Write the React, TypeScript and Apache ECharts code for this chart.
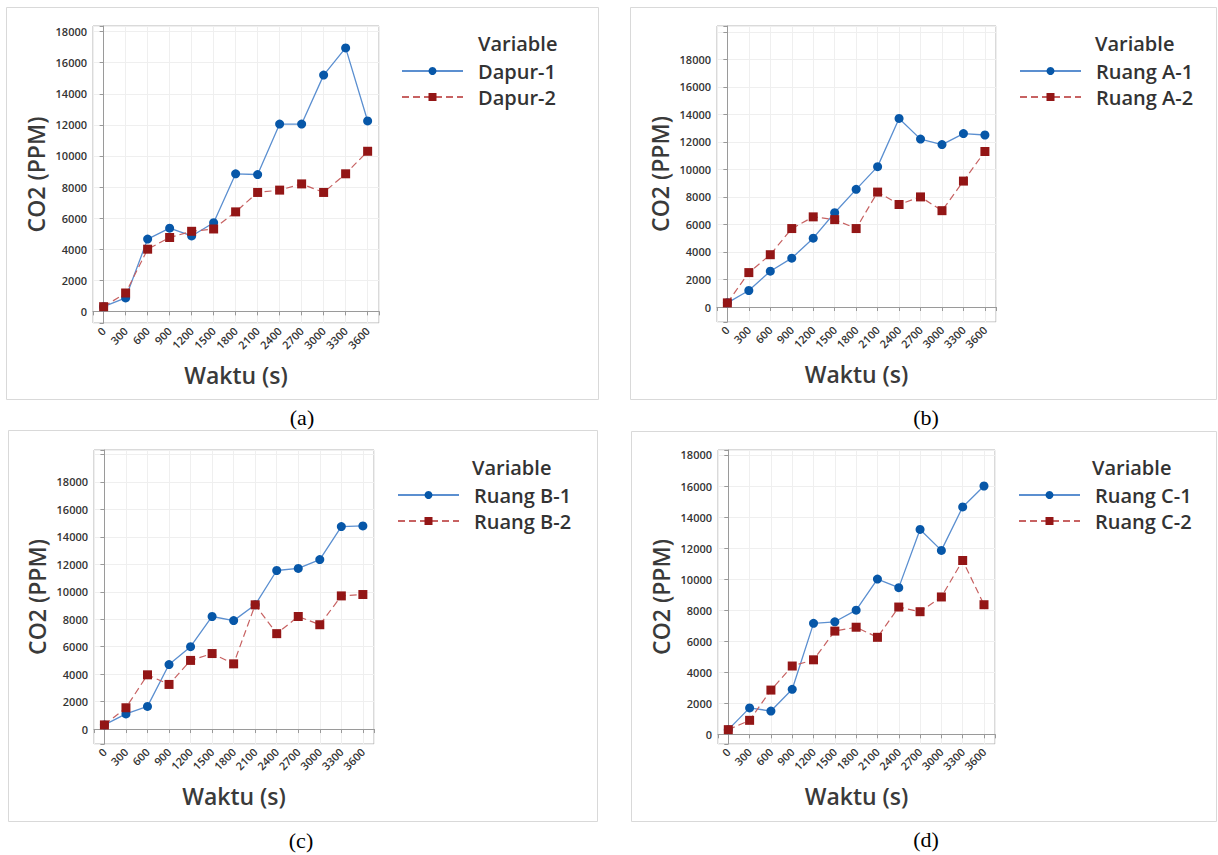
import React, { useEffect, useRef } from "react";
import * as echarts from "echarts";

const times = [0, 300, 600, 900, 1200, 1500, 1800, 2100, 2400, 2700, 3000, 3300, 3600];

const dapur1 = [300, 860, 4650, 5350, 4850, 5700, 8850, 8800, 12050, 12050, 15200, 16950, 12250];
const dapur2 = [300, 1180, 4000, 4750, 5150, 5300, 6400, 7650, 7800, 8200, 7650, 8850, 10300];

const ruangA1 = [300, 1200, 2600, 3550, 5000, 6850, 8550, 10200, 13700, 12200, 11800, 12600, 12500];
const ruangA2 = [300, 2500, 3800, 5700, 6550, 6350, 5700, 8350, 7450, 8000, 7000, 9150, 11300];

const ruangB1 = [300, 1100, 1650, 4700, 6000, 8200, 7900, 9050, 11550, 11700, 12350, 14750, 14800];
const ruangB2 = [300, 1550, 3950, 3250, 5000, 5500, 4750, 9050, 6950, 8200, 7600, 9700, 9800];

const ruangC1 = [300, 1700, 1500, 2900, 7150, 7250, 8000, 10000, 9450, 13200, 11850, 14650, 16000];
const ruangC2 = [300, 900, 2850, 4400, 4800, 6650, 6900, 6250, 8200, 7900, 8850, 11200, 8350];

const seriesNames = [
  ["Dapur-1", "Dapur-2"],
  ["Ruang A-1", "Ruang A-2"],
  ["Ruang B-1", "Ruang B-2"],
  ["Ruang C-1", "Ruang C-2"],
];
const seriesValues = [
  [dapur1, dapur2],
  [ruangA1, ruangA2],
  [ruangB1, ruangB2],
  [ruangC1, ruangC2],
];
const panelLabels = ["(a)", "(b)", "(c)", "(d)"];
const xTitle = "Waktu (s)";
const yTitle = "CO2 (PPM)";
const legendTitle = "Variable";

// layout (pixels)
const layouts = [
  { box: [6, 7, 592, 392], grid: [93, 26, 286, 297], yMin: -750, yMax: 18360, legendX: 401, titleX: 478, top: 0, label: [302, 417] },
  { box: [630, 7, 586, 392], grid: [717, 26, 279, 296], yMin: -1090, yMax: 20420, legendX: 1019, titleX: 1095, top: 0, label: [926, 417] },
  { box: [8, 430, 589, 391], grid: [94, 450, 280, 294], yMin: -1090, yMax: 20330, legendX: 397, titleX: 472, top: 424, label: [301, 840] },
  { box: [631, 431, 585, 390], grid: [718, 450, 277, 294], yMin: -625, yMax: 18320, legendX: 1018, titleX: 1092, top: 424, label: [926, 839] },
];

const FONT = "'Open Sans', 'Noto Sans', sans-serif";
const BLUE = "#0757a8";
const BLUE_LINE = "#5b8fd0";
const RED = "#931616";
const RED_LINE = "#c76262";

export default function App() {
  const ref = useRef<HTMLDivElement>(null);
  useEffect(() => {
    if (!ref.current) return;
    const chart = echarts.init(ref.current, null, { renderer: "svg" });
    const grids: any[] = [];
    const xAxes: any[] = [];
    const yAxes: any[] = [];
    const series: any[] = [];
    const legends: any[] = [];
    const graphics: any[] = [];

    layouts.forEach((L, p) => {
      grids.push({
        left: L.grid[0], top: L.grid[1], width: L.grid[2], height: L.grid[3],
        show: true, borderColor: "#b4b4b4", borderWidth: 1, backgroundColor: "#fff",
      });
      xAxes.push({
        type: "value", gridIndex: p, min: -145, max: 3755, splitNumber: 13,
        name: xTitle, nameLocation: "middle", nameGap: 40,
        nameTextStyle: { fontFamily: FONT, fontSize: 23, fontWeight: 600, color: "#3a3a3a" },
        axisLine: { show: true, lineStyle: { color: "#9a9a9a" } },
        axisTick: { show: true, length: 4, lineStyle: { color: "#9a9a9a" } },
        axisLabel: {
          rotate: 45, fontFamily: FONT, fontSize: 11, fontWeight: 600, color: "#333", margin: 6,
          formatter: (v: number) => (v >= 0 && v <= 3600 && v % 300 === 0 ? String(v) : ""),
        },
        splitLine: { show: true, lineStyle: { color: "#efefef" } },
      });
      yAxes.push({
        type: "value", gridIndex: p, min: L.yMin, max: L.yMax, splitNumber: 9,
        name: yTitle, nameLocation: "middle", nameGap: 46,
        nameTextStyle: { fontFamily: FONT, fontSize: 23, fontWeight: 600, color: "#3a3a3a" },
        axisLine: { show: true, lineStyle: { color: "#9a9a9a" } },
        axisTick: { show: true, length: 4, lineStyle: { color: "#9a9a9a" } },
        axisLabel: {
          fontFamily: FONT, fontSize: 11, fontWeight: 600, color: "#333", margin: 6,
          formatter: (v: number) => (v >= 0 && v <= 18000 && v % 2000 === 0 ? String(v) : ""),
        },
        splitLine: { show: true, lineStyle: { color: "#efefef" } },
      });
      const [n1, n2] = seriesNames[p];
      const [v1, v2] = seriesValues[p];
      series.push({
        type: "line", name: n1, xAxisIndex: p, yAxisIndex: p,
        data: times.map((t, i) => [t, v1[i]]),
        symbol: "circle", symbolSize: 9,
        itemStyle: { color: BLUE },
        lineStyle: { color: BLUE_LINE, width: 1.3 },
      });
      series.push({
        type: "line", name: n2, xAxisIndex: p, yAxisIndex: p,
        data: times.map((t, i) => [t, v2[i]]),
        symbol: "rect", symbolSize: 9,
        itemStyle: { color: RED },
        lineStyle: { color: RED_LINE, width: 1.2, type: [7, 4] },
      });
      legends.push({
        data: [n1, n2], orient: "vertical", left: L.legendX, top: L.top + 60,
        padding: 0, itemGap: 4, itemWidth: 61, itemHeight: 10,
        textStyle: { fontFamily: FONT, fontSize: 20, fontWeight: 600, color: "#333", lineHeight: 22, padding: [0, 0, 0, 10] },
      });
      graphics.push({
        type: "rect", shape: { x: L.box[0] + 0.5, y: L.box[1] + 0.5, width: L.box[2], height: L.box[3] },
        style: { fill: "none", stroke: "#d9d9d9", lineWidth: 1 }, z: -10,
      });
      graphics.push({
        type: "text", x: L.titleX, y: L.top + 43,
        style: { text: legendTitle, fontFamily: FONT, fontSize: 20, lineHeight: 20, fontWeight: 600, fill: "#333", verticalAlign: "middle", align: "left" },
      });
      graphics.push({
        type: "text", x: L.label[0], y: L.label[1],
        style: { text: panelLabels[p], fontFamily: "'Liberation Serif', 'Times New Roman', serif", fontSize: 22, fill: "#000", verticalAlign: "middle", align: "center" },
      });
    });

    chart.setOption({
      animation: false,
      backgroundColor: "#fff",
      grid: grids,
      xAxis: xAxes,
      yAxis: yAxes,
      series,
      legend: legends,
      graphic: graphics,
    });
    return () => chart.dispose();
  }, []);
  return <div ref={ref} style={{ position: "absolute", left: 0, top: 0, width: 1218, height: 855 }} />;
}
